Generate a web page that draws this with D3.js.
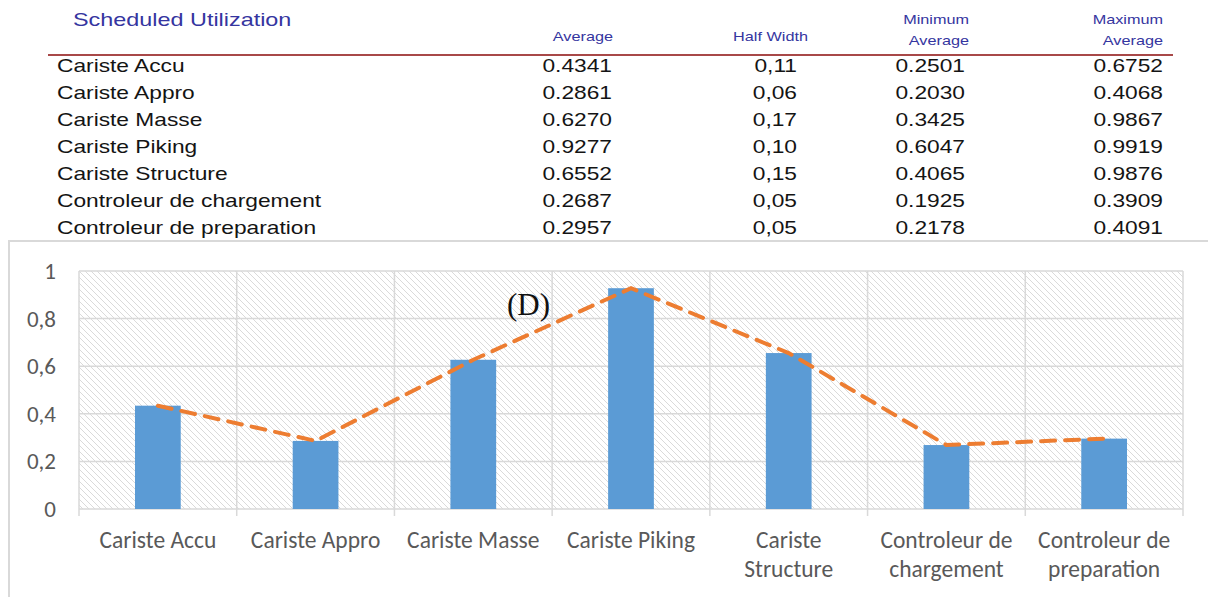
<!DOCTYPE html>
<html>
<head>
<meta charset="utf-8">
<script src="https://cdn.jsdelivr.net/npm/d3@7"></script>
<style>
  html, body { margin: 0; padding: 0; background: #fff; }
  svg { display: block; }
</style>
</head>
<body>
<svg id="chart" width="1208" height="597"></svg>
<script>
// Resource utilisation statistics
const categories = ["Cariste Accu", "Cariste Appro", "Cariste Masse", "Cariste Piking",
  "Cariste Structure", "Controleur de chargement", "Controleur de preparation"];
const average = [0.4341, 0.2861, 0.6270, 0.9277, 0.6552, 0.2687, 0.2957];
const halfWidth = [0.11, 0.06, 0.17, 0.10, 0.15, 0.05, 0.05];
const minimumAverage = [0.2501, 0.2030, 0.3425, 0.6047, 0.4065, 0.1925, 0.2178];
const maximumAverage = [0.6752, 0.4068, 0.9867, 0.9919, 0.9876, 0.3909, 0.4091];
const axisLabels = [["Cariste Accu"], ["Cariste Appro"], ["Cariste Masse"], ["Cariste Piking"],
  ["Cariste", "Structure"], ["Controleur de", "chargement"], ["Controleur de", "preparation"]];
const yTicks = [0, 0.2, 0.4, 0.6, 0.8, 1];

const svg = d3.select("#chart");
const fmt4 = d3.format(".4f");
const fmtComma2 = v => d3.format(".2f")(v).replace(".", ",");
const fmtComma1 = v => v === 0 || v === 1 ? String(v) : d3.format(".1f")(v).replace(".", ",");

// ---------- Summary table ----------
const table = svg.append("g").attr("class", "table");
const SX = 1.3; // wide report font
function wideText(x, y, str, opts) {
  table.append("text")
    .attr("transform", `translate(${x},${y}) scale(${opts.sx || SX},1)`)
    .attr("text-anchor", opts.anchor || "start")
    .attr("font-family", "'Liberation Sans', Arial, sans-serif")
    .attr("font-size", opts.size)
    .attr("fill", opts.color)
    .text(str);
}
const headColor = "#3535a0";
wideText(73, 26, "Scheduled Utilization", {size: 18, color: headColor});
wideText(613, 41, "Average", {size: 12.5, color: headColor, anchor: "end"});
wideText(808, 41, "Half Width", {size: 12.5, color: headColor, anchor: "end"});
wideText(969, 24, "Minimum", {size: 12.5, color: headColor, anchor: "end"});
wideText(969, 45, "Average", {size: 12.5, color: headColor, anchor: "end"});
wideText(1163, 24, "Maximum", {size: 12.5, color: headColor, anchor: "end"});
wideText(1163, 45, "Average", {size: 12.5, color: headColor, anchor: "end"});

table.append("line")
  .attr("x1", 48).attr("x2", 1173).attr("y1", 55).attr("y2", 55)
  .attr("stroke", "#a84848").attr("stroke-width", 2);

const rowY = d3.scalePoint().domain(d3.range(categories.length)).range([72, 234]);
categories.forEach((c, i) => {
  const y = rowY(i);
  const o = {size: 17.5, color: "#141414"};
  wideText(57, y, c, o);
  wideText(612, y, fmt4(average[i]), {...o, anchor: "end"});
  wideText(797, y, fmtComma2(halfWidth[i]), {...o, anchor: "end"});
  wideText(965, y, fmt4(minimumAverage[i]), {...o, anchor: "end"});
  wideText(1163, y, fmt4(maximumAverage[i]), {...o, anchor: "end"});
});

// ---------- Chart ----------
svg.append("rect")
  .attr("x", 9).attr("y", 241).attr("width", 1220).attr("height", 380)
  .attr("fill", "#fff").attr("stroke", "#d9d9d9").attr("stroke-width", 2);

const defs = svg.append("defs");
const pat = defs.append("pattern")
  .attr("id", "hatch").attr("patternUnits", "userSpaceOnUse")
  .attr("width", 6).attr("height", 6);
pat.append("rect").attr("width", 6).attr("height", 6).attr("fill", "#fff");
pat.append("path")
  .attr("d", "M0,0 L6,6 M-3,3 L3,9 M3,-3 L9,3")
  .attr("stroke", "#dadada").attr("stroke-width", 1);

const plot = {left: 79, right: 1183, top: 271, bottom: 509};
const x = d3.scaleBand().domain(categories).range([plot.left, plot.right]).padding(0);
const y = d3.scaleLinear().domain([0, 1]).range([plot.bottom, plot.top]);

const chart = svg.append("g");
chart.append("rect")
  .attr("x", plot.left).attr("y", plot.top)
  .attr("width", plot.right - plot.left).attr("height", plot.bottom - plot.top)
  .attr("fill", "url(#hatch)");

const gridColor = "#d9d9d9";
// horizontal gridlines
chart.append("g").selectAll("line").data(yTicks).join("line")
  .attr("x1", plot.left).attr("x2", plot.right)
  .attr("y1", d => y(d)).attr("y2", d => y(d))
  .attr("stroke", gridColor).attr("stroke-width", 1.5);
// vertical gridlines at category boundaries, extending as tick marks
const bounds = categories.map(c => x(c)).concat([plot.right]);
chart.append("g").selectAll("line").data(bounds).join("line")
  .attr("x1", d => d).attr("x2", d => d)
  .attr("y1", plot.top).attr("y2", plot.bottom + 7)
  .attr("stroke", gridColor).attr("stroke-width", 1.5);

const axisFont = "Carlito, Lato, 'Open Sans', sans-serif";
// y-axis labels
chart.append("g").selectAll("text").data(yTicks).join("text")
  .attr("x", 56).attr("y", d => y(d)).attr("dy", "0.35em")
  .attr("text-anchor", "end")
  .attr("font-family", axisFont).attr("font-size", 23).attr("fill", "#595959")
  .text(fmtComma1);

// bars
const barFrac = 0.29;
chart.append("g").selectAll("rect").data(categories).join("rect")
  .attr("x", c => x(c) + x.bandwidth() * (1 - barFrac) / 2)
  .attr("width", x.bandwidth() * barFrac)
  .attr("y", (c, i) => y(average[i]))
  .attr("height", (c, i) => y(0) - y(average[i]))
  .attr("fill", "#5b9bd5");

// dashed trend line
const line = d3.line()
  .x((d, i) => x(categories[i]) + x.bandwidth() / 2)
  .y(d => y(d));
chart.append("path")
  .datum(average)
  .attr("d", line)
  .attr("fill", "none")
  .attr("stroke", "#ed7d31").attr("stroke-width", 4)
  .attr("stroke-dasharray", "14,10")
  .attr("stroke-linecap", "round");

// category labels
const catG = chart.append("g").selectAll("g").data(categories).join("g")
  .attr("transform", c => `translate(${x(c) + x.bandwidth() / 2},0)`);
catG.each(function(c, i) {
  d3.select(this).selectAll("text").data(axisLabels[i]).join("text")
    .attr("x", 0).attr("y", (d, j) => 548 + j * 29)
    .attr("text-anchor", "middle")
    .attr("font-family", axisFont).attr("font-size", 23.5).attr("fill", "#595959")
    .text(d => d);
});

// curve annotation
chart.append("text")
  .attr("x", 507).attr("y", 315)
  .attr("font-family", "'Liberation Serif', 'Times New Roman', serif")
  .attr("font-size", 31).attr("fill", "#111")
  .text("(D)");
</script>
</body>
</html>
